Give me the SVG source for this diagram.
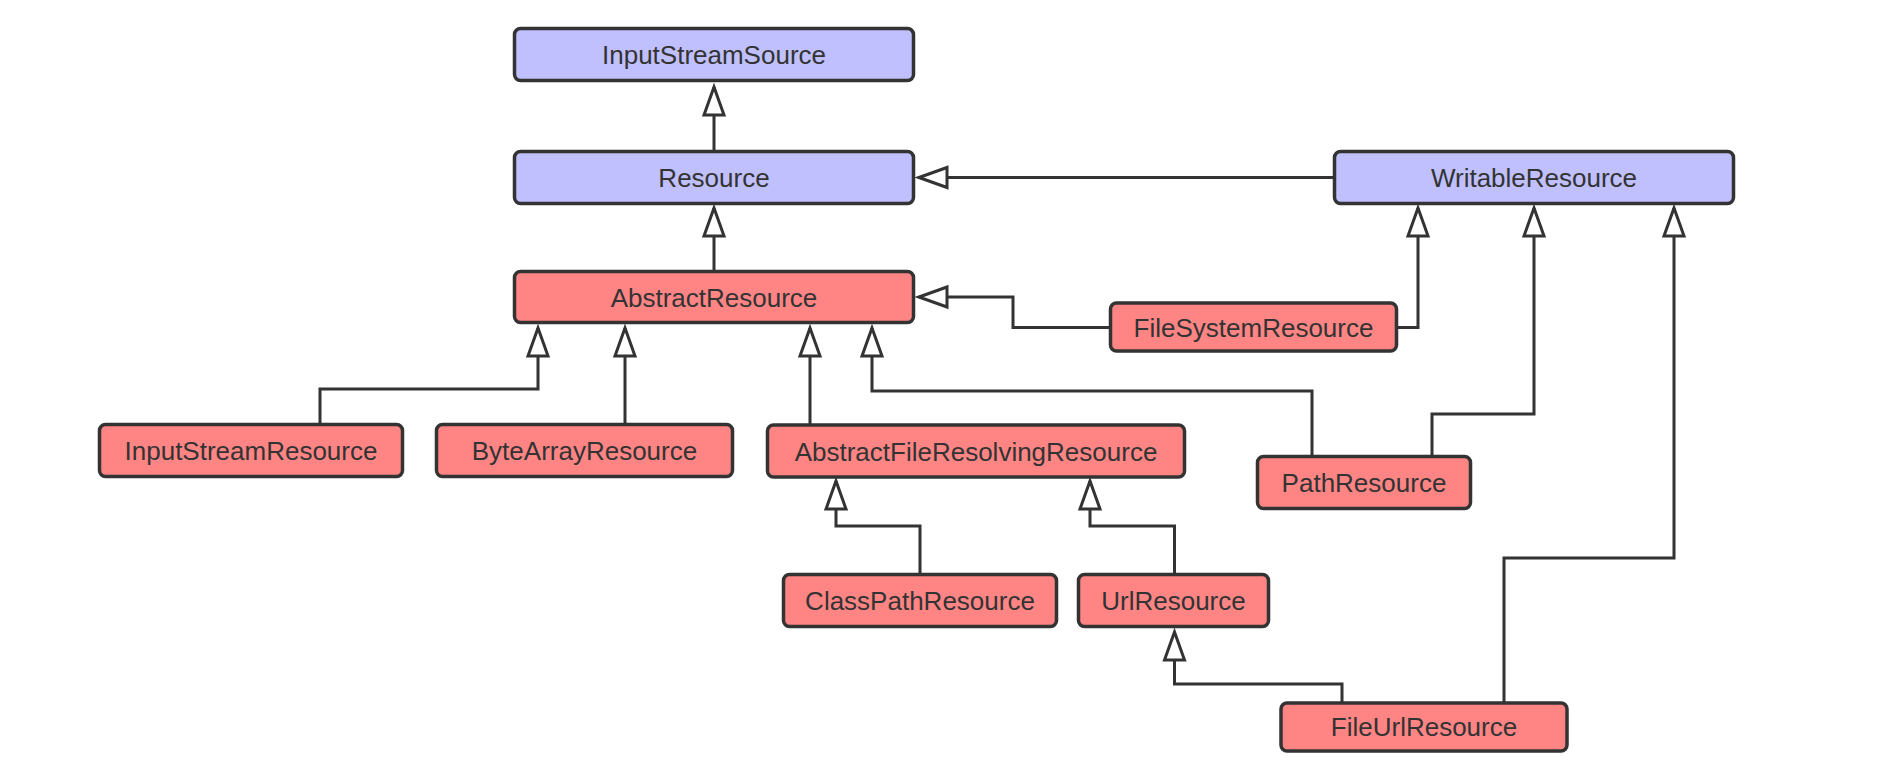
<svg xmlns="http://www.w3.org/2000/svg" width="1898" height="782" viewBox="0 0 1898 782">
<style>
.box{stroke:#333;stroke-width:3.5}
.iface{fill:#c0c0ff}
.cls{fill:#ff8585}
.lbl{font-family:"Liberation Sans",Arial,Helvetica,sans-serif;font-size:26px;fill:#333;text-anchor:middle}
.con{fill:none;stroke:#333;stroke-width:3;marker-end:url(#tri)}
</style>
<defs>
<marker id="tri" markerUnits="userSpaceOnUse" markerWidth="34" markerHeight="26" refX="30" refY="13" orient="auto">
<path d="M2,3 L30,13 L2,23 Z" fill="#fff" stroke="#333" stroke-width="3" stroke-linejoin="miter"/>
</marker>
</defs>
<rect width="1898" height="782" fill="#fff"/>
<g id="connectors">
<path class="con" d="M714,151 L714,87"/>
<path class="con" d="M714,271 L714,208"/>
<path class="con" d="M1334,177.5 L919,177.5"/>
<path class="con" d="M1110,327.5 L1013,327.5 L1013,297 L919,297"/>
<path class="con" d="M1398,327.5 L1418,327.5 L1418,208"/>
<path class="con" d="M320,424 L320,389 L538,389 L538,328"/>
<path class="con" d="M625,424 L625,328"/>
<path class="con" d="M810,425 L810,328"/>
<path class="con" d="M1312,456 L1312,391 L872,391 L872,328"/>
<path class="con" d="M1432,456 L1432,414 L1534,414 L1534,208"/>
<path class="con" d="M920,574 L920,526 L836,526 L836,481"/>
<path class="con" d="M1174.5,574 L1174.5,526 L1090,526 L1090,481"/>
<path class="con" d="M1342,702 L1342,684 L1174.5,684 L1174.5,632"/>
<path class="con" d="M1504,702 L1504,558 L1674,558 L1674,208"/>
</g>
<g id="InputStreamSource"><rect class="box iface" x="514.5" y="28.5" width="399" height="52" rx="6"/><text class="lbl" x="714" y="64">InputStreamSource</text></g>
<g id="Resource"><rect class="box iface" x="514.5" y="151.5" width="399" height="52" rx="6"/><text class="lbl" x="714" y="187">Resource</text></g>
<g id="WritableResource"><rect class="box iface" x="1334.5" y="151.5" width="399" height="52" rx="6"/><text class="lbl" x="1534" y="187">WritableResource</text></g>
<g id="AbstractResource"><rect class="box cls" x="514.5" y="271.5" width="399" height="51" rx="6"/><text class="lbl" x="714" y="306.5">AbstractResource</text></g>
<g id="FileSystemResource"><rect class="box cls" x="1110.5" y="303" width="286" height="48" rx="6"/><text class="lbl" x="1253.5" y="336.5">FileSystemResource</text></g>
<g id="InputStreamResource"><rect class="box cls" x="99.5" y="424.5" width="303" height="52" rx="6"/><text class="lbl" x="251" y="460">InputStreamResource</text></g>
<g id="ByteArrayResource"><rect class="box cls" x="436.5" y="424.5" width="296" height="52" rx="6"/><text class="lbl" x="584.5" y="460">ByteArrayResource</text></g>
<g id="AbstractFileResolvingResource"><rect class="box cls" x="767.5" y="425" width="417" height="52" rx="6"/><text class="lbl" x="976" y="460.5">AbstractFileResolvingResource</text></g>
<g id="PathResource"><rect class="box cls" x="1257.5" y="456.5" width="213" height="52" rx="6"/><text class="lbl" x="1364" y="492">PathResource</text></g>
<g id="ClassPathResource"><rect class="box cls" x="783.5" y="574.5" width="273" height="52" rx="6"/><text class="lbl" x="920" y="610">ClassPathResource</text></g>
<g id="UrlResource"><rect class="box cls" x="1078.5" y="574.5" width="190" height="52" rx="6"/><text class="lbl" x="1173.5" y="610">UrlResource</text></g>
<g id="FileUrlResource"><rect class="box cls" x="1281" y="703" width="286" height="48" rx="6"/><text class="lbl" x="1424" y="736">FileUrlResource</text></g>
</svg>
